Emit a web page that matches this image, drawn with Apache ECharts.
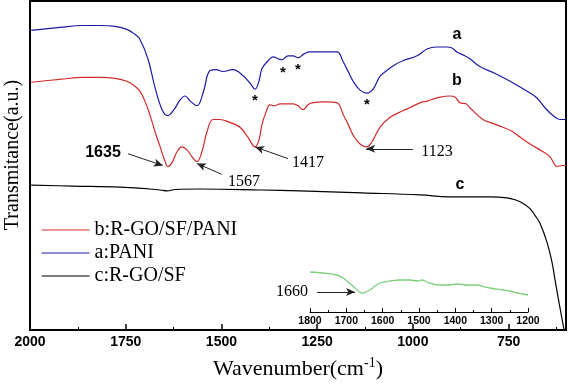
<!DOCTYPE html>
<html>
<head>
<meta charset="utf-8">
<script src="https://cdn.jsdelivr.net/npm/echarts@6/dist/echarts.min.js"></script>
<style>html,body{margin:0;padding:0;background:#fff}#c{width:568px;height:385px}</style>
</head>
<body>
<div id="c"></div>
<script>
// ---- data (wavenumber cm-1, transmittance a.u.) ----
const curveA_PANI = [[1997,306],[1922,309],[1862,311],[1817,311],[1778,310],[1747,307],[1726,302],[1713,297],[1692,277],[1673,247],[1655,225],[1640,219],[1624,225],[1608,235],[1595,239],[1582,234],[1564,229],[1548,242],[1530,265],[1514,266],[1496,264],[1470,266],[1444,260],[1425,252],[1412,246],[1402,254],[1394,267],[1378,275],[1365,279],[1352,277],[1342,276],[1326,280],[1313,280],[1300,278],[1284,282],[1269,284],[1229,284],[1198,284],[1182,274],[1169,264],[1156,254],[1138,245],[1120,242],[1104,246],[1086,259],[1068,265],[1047,271],[1026,275],[989,280],[963,287],[937,289],[911,289],[898,288],[885,284],[864,280],[851,277],[825,269],[785,262],[746,254],[707,245],[676,237],[655,227],[634,219],[616,215],[600,215]];
const curveB_RGOSFPANI = [[1997,253],[1922,256],[1862,258],[1817,258],[1778,257],[1747,254],[1726,249],[1713,244],[1700,234],[1687,220],[1673,202],[1660,187],[1647,172],[1640,167],[1629,171],[1616,182],[1603,187],[1590,184],[1577,177],[1564,172],[1551,182],[1538,202],[1522,215],[1504,215],[1478,212],[1459,209],[1446,205],[1431,197],[1412,187],[1402,194],[1394,210],[1384,222],[1373,230],[1360,229],[1347,231],[1326,231],[1313,231],[1300,229],[1287,225],[1274,230],[1264,232],[1229,233],[1198,232],[1182,220],[1169,210],[1156,199],[1138,190],[1120,187],[1107,192],[1086,207],[1060,217],[1026,224],[1008,227],[982,232],[961,234],[937,237],[903,239],[890,238],[877,232],[861,231],[851,227],[817,215],[791,211],[765,207],[741,203],[720,197],[694,190],[660,182],[642,177],[623,167],[610,168],[600,168]];
const curveC_RGOSF = [[1997,148],[1890,147],[1765,146],[1687,144],[1660,143],[1642,142],[1621,143.5],[1556,144],[1399,143],[1295,142],[1133,140],[981,138],[906,136],[851,136],[799,136],[754,135],[733,133],[715,130],[694,124],[681,117],[668,109],[650,90],[637,70],[629,52],[621,34],[613,17],[605,0]];
const insetC_1800_1200 = [[1800,40],[1764,39],[1726,37],[1709,34],[1695,30],[1676,24],[1657,19],[1646,20],[1635,22],[1621,26],[1607,29],[1580,31],[1552,32],[1525,32],[1503,31],[1492,32],[1478,30],[1461,28],[1442,27],[1423,27],[1395,28],[1368,27],[1340,27],[1318,25],[1305,24],[1269,22],[1250,21],[1230,19],[1214,18],[1200,17]];
const majorTicks = [2000,1750,1500,1250,1000,750];
const minorTicks = [1875,1625,1375,1125,875,625];
const legendNames = ['b:R-GO/SF/PANI','a:PANI','c:R-GO/SF'];
// arrows: [from, to] in data units
const arrowsMain = [[[1744,180],[1653,168]],[[1499,159],[1564,170]],[[1326,175],[1412,187]],[[1000,185],[1122,185]]];
const arrowsInset = [[[1781,20],[1676,20]]];

const chart = echarts.init(document.getElementById('c'), null, {renderer:'canvas'});
const serif = '"Liberation Serif","Times New Roman",serif';
const sans = '"Liberation Sans",Arial,sans-serif';
function arrowData(list){return list.map(p=>[{coord:p[0]},{coord:p[1]}]);}
const arrowStyle = {
  silent:true, symbol:['none','arrow'], symbolSize:[6,9],
  lineStyle:{color:'#222',width:1,type:'solid'}, label:{show:false}, emphasis:{disabled:true}
};
function txt(t,x,y,font,size,weight){return {type:'text',x:x,y:y,silent:true,style:{text:t,fontFamily:font,fontSize:size,fontWeight:weight||'normal',fill:'#000',align:'center',verticalAlign:'middle'}};}
const plain = v => String(v);

chart.setOption({
  animation:false,
  grid:[
    {left:30,right:2,top:1,bottom:48,show:true,borderColor:'#000',borderWidth:2,backgroundColor:'transparent'},
    {left:310,width:218,top:262,height:50}
  ],
  legend:{
    data:legendNames, orient:'vertical', left:36, top:215, itemWidth:48, itemHeight:14, itemGap:3,
    lineStyle:{width:1.2}, itemStyle:{opacity:0},
    textStyle:{fontFamily:serif,fontSize:20,color:'#000',lineHeight:20}, selectedMode:false
  },
  xAxis:[
    {type:'value',gridIndex:0,min:600,max:2000,inverse:true,position:'bottom',
     axisLine:{lineStyle:{color:'#000',width:2}},
     axisTick:{inside:true,length:6,customValues:majorTicks,lineStyle:{color:'#000',width:1.5}},
     axisLabel:{customValues:majorTicks,formatter:plain,fontFamily:sans,fontWeight:'bold',fontSize:14,color:'#000',margin:5},
     splitLine:{show:false},
     name:'{a|Wavenumber(cm}{s|-1}{a|)}',nameLocation:'middle',nameGap:26,
     nameTextStyle:{rich:{a:{fontFamily:serif,fontSize:22,color:'#000'},s:{fontFamily:serif,fontSize:14,color:'#000',padding:[0,0,12,0]}}}
    },
    {type:'value',gridIndex:0,min:600,max:2000,inverse:true,position:'bottom',
     axisLine:{show:false},axisLabel:{show:false},splitLine:{show:false},
     axisTick:{inside:true,length:3,customValues:minorTicks,lineStyle:{color:'#000',width:1}}
    },
    {type:'value',gridIndex:1,min:1200,max:1800,inverse:true,interval:100,
     axisLine:{lineStyle:{color:'#000',width:1}},
     axisTick:{inside:true,length:4,lineStyle:{color:'#000',width:1}},
     minorTick:{show:true,splitNumber:2,length:2,lineStyle:{color:'#000'}},
     axisLabel:{formatter:plain,fontFamily:sans,fontWeight:'bold',fontSize:10.5,color:'#000',margin:4},
     splitLine:{show:false}
    }
  ],
  yAxis:[
    {type:'value',gridIndex:0,min:0,max:336,show:true,axisLine:{show:false},axisTick:{show:false},axisLabel:{show:false},splitLine:{show:false}},
    {type:'value',gridIndex:1,min:0,max:50,show:false}
  ],
  series:[
    {name:'a:PANI',type:'line',xAxisIndex:0,yAxisIndex:0,data:curveA_PANI,symbol:'none',smooth:0.4,lineStyle:{color:'#1a1aa6',width:1.2},itemStyle:{color:'#1a1aa6'}},
    {name:'b:R-GO/SF/PANI',type:'line',xAxisIndex:0,yAxisIndex:0,data:curveB_RGOSFPANI,symbol:'none',smooth:0.4,lineStyle:{color:'#d22a2a',width:1.2},itemStyle:{color:'#d22a2a'},
     markLine:Object.assign({data:arrowData(arrowsMain)},arrowStyle)},
    {name:'c:R-GO/SF',type:'line',xAxisIndex:0,yAxisIndex:0,data:curveC_RGOSF,symbol:'none',smooth:0.4,lineStyle:{color:'#000',width:1.2},itemStyle:{color:'#000'}},
    {name:'inset',type:'line',xAxisIndex:2,yAxisIndex:1,data:insetC_1800_1200,symbol:'none',smooth:0.4,lineStyle:{color:'#7ed07e',width:1.3},
     markLine:Object.assign({data:arrowData(arrowsInset)},arrowStyle)}
  ],
  graphic:[
    {type:'text',x:13,y:155,rotation:Math.PI/2,silent:true,style:{text:'Transmitance(a.u.)',fontFamily:serif,fontSize:20,fill:'#000',align:'center',verticalAlign:'middle'}},
    txt('1635',103,153,sans,16,'bold'),
    txt('1567',244,182,serif,16),
    txt('1417',308,163,serif,16),
    txt('1123',437,152,serif,16),
    txt('1660',292,292,serif,16),
    txt('a',457,35,sans,16,'bold'),
    txt('b',457,81,sans,16,'bold'),
    txt('c',460,185,sans,16,'bold'),
    txt('*',255,101,sans,15,'bold'),
    txt('*',283,73,sans,15,'bold'),
    txt('*',298,70,sans,15,'bold'),
    txt('*',367,105,sans,15,'bold')
  ]
});
</script>
</body>
</html>
